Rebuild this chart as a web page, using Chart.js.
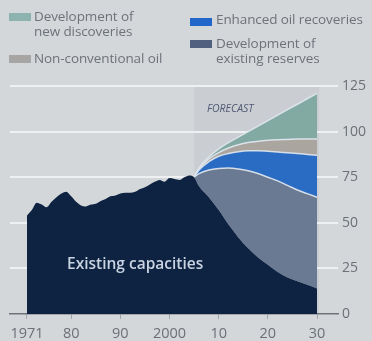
<!DOCTYPE html>
<html>
<head>
<meta charset="utf-8">
<script src="https://cdn.jsdelivr.net/npm/chart.js@4.4.1/dist/chart.umd.min.js"></script>
<style>
    html, body { margin: 0; padding: 0; background: #d4d7da; }
    #wrap { position: relative; width: 372px; height: 341px; overflow: hidden; font-family: "Open Sans", sans-serif; }
    #myChart { position: absolute; left: 0; top: 0; }
    .key { position: absolute; font-size: 13.5px; line-height: 15px; color: #6e7279; white-space: nowrap; letter-spacing: -0.1px; }
    .sw { position: absolute; width: 22px; height: 8px; }
</style>
</head>
<body>
<div id="wrap">
    <canvas id="myChart" width="372" height="341"></canvas>
    <div class="sw" style="left:9px;top:13px;background:#8db3b1"></div>
    <div class="key" style="left:34px;top:9px">Development of<br>new discoveries</div>
    <div class="sw" style="left:9px;top:55px;background:#a6a5a3"></div>
    <div class="key" style="left:34px;top:51px">Non-conventional oil</div>
    <div class="sw" style="left:190px;top:18px;background:#2166c8"></div>
    <div class="key" style="left:216px;top:12px">Enhanced oil recoveries</div>
    <div class="sw" style="left:190px;top:40px;background:#50607e"></div>
    <div class="key" style="left:216px;top:36px">Development of<br>existing reserves</div>
</div>
<script>
// oil output, million barrels a day
const histYears = [1971, 1972, 1973, 1974, 1975, 1976, 1977, 1978, 1979, 1980, 1981, 1982, 1983, 1984, 1985, 1986, 1987,
    1988, 1989, 1990, 1991, 1992, 1993, 1994, 1995, 1996, 1997, 1998, 1999, 2000, 2001, 2002, 2003, 2004]
const histOutput = [54, 57, 61, 60, 58.5, 61.5, 64, 66, 67, 64.5, 61.5, 59.5, 59, 60, 60.5, 62, 63,
    64.5, 65, 66, 66.5, 66.5, 67, 68.5, 69.5, 71, 72.5, 73.5, 72.5, 74.5, 74, 73.5, 75, 76]

const forecastYears = [2005, 2006, 2008, 2010, 2012, 2014, 2016, 2018, 2020, 2022, 2024, 2026, 2028, 2030]
const existingCapacities = [75, 70, 64, 57, 49, 42, 36, 31, 27, 23, 20, 18, 16, 14]
const existingReserves = [0, 7, 15, 22.8, 31, 37.5, 42.5, 46, 48, 50, 50.5, 50, 50, 50]
const enhancedRecovery = [0, 2, 4.5, 6.7, 8, 9.5, 11, 12.5, 14.2, 15.8, 17.9, 20, 21.5, 23]
const nonConventional = [0, 0.5, 1.5, 2, 3, 3.8, 4.5, 5.2, 6, 6.7, 7.3, 7.9, 8.5, 9]
const newDiscoveries = [0, 0.5, 1, 2, 3, 4.2, 6, 8.3, 10.8, 13.5, 16.3, 19.1, 22, 25]

const xTicks = [1971, 1980, 1990, 2000, 2010, 2020, 2030]
const xTickLabels = ['1971', '80', '90', '2000', '10', '20', '30']
const yTicks = [0, 25, 50, 75, 100, 125]
const forecastStart = 2005

const edge = 'rgba(225, 232, 240, 0.9)'
const pts = (xs, ys) => xs.map((x, i) => ({ x: x, y: ys[i] }))

const ctx = document.getElementById('myChart')

const backdrop = {
    id: 'backdrop',
    beforeDraw(chart) {
        const c = chart.ctx
        const x = chart.scales.x
        const y = chart.scales.y
        c.save()
        c.fillStyle = '#d4d7da'
        c.fillRect(0, 0, chart.width, chart.height)
        // forecast shading
        const x0 = x.getPixelForValue(forecastStart)
        const x1 = x.getPixelForValue(2030) + 2
        c.fillStyle = '#cacdd2'
        c.fillRect(x0, y.getPixelForValue(125), x1 - x0, y.getPixelForValue(0) - y.getPixelForValue(125))
        c.restore()
    },
    afterDatasetsDraw(chart) {
        const c = chart.ctx
        c.save()
        c.textBaseline = 'middle'
        c.fillStyle = '#4f5b74'
        c.font = 'italic 10.5px "Open Sans", sans-serif'
        c.fillText('FORECAST', 207, 109)
        c.fillStyle = '#c9d3e2'
        c.font = '600 15.5px "Open Sans", sans-serif'
        c.fillText('Existing capacities', 67, 265)
        c.restore()
    }
}

new Chart(ctx, {
    type: 'line',
    data: {
        datasets: [{
            label: 'Existing capacities',
            data: pts(histYears, histOutput).concat(pts(forecastYears, existingCapacities)),
            backgroundColor: '#0e2341',
            borderWidth: 0,
            fill: 'origin'
        }, {
            label: 'Development of existing reserves',
            data: pts(forecastYears, existingReserves),
            backgroundColor: '#6b7a93',
            borderColor: edge,
            borderWidth: 1.5,
            fill: '-1'
        }, {
            label: 'Enhanced oil recoveries',
            data: pts(forecastYears, enhancedRecovery),
            backgroundColor: '#2a6cc3',
            borderColor: edge,
            borderWidth: 1.5,
            fill: '-1'
        }, {
            label: 'Non-conventional oil',
            data: pts(forecastYears, nonConventional),
            backgroundColor: '#aaa59f',
            borderColor: edge,
            borderWidth: 1.5,
            fill: '-1'
        }, {
            label: 'Development of new discoveries',
            data: pts(forecastYears, newDiscoveries),
            backgroundColor: '#83a9a3',
            borderColor: edge,
            borderWidth: 1.5,
            fill: '-1'
        }, {
            // light edge along the forecast part of existing capacities
            label: 'edge',
            stack: 'edge',
            data: pts(forecastYears, existingCapacities),
            borderColor: edge,
            borderWidth: 1.5,
            fill: false
        }]
    },
    options: {
        responsive: false,
        animation: false,
        layout: { padding: { left: 10, top: 86, right: 0, bottom: 0 } },
        elements: {
            point: { radius: 0 },
            line: { cubicInterpolationMode: 'monotone' }
        },
        plugins: {
            legend: { display: false },
            tooltip: { enabled: false }
        },
        scales: {
            x: {
                type: 'linear',
                min: 1967.55,
                max: 2034.27,
                afterBuildTicks: (s) => { s.ticks = xTicks.map(v => ({ value: v })) },
                afterFit: (s) => { s.height = 27 },
                ticks: {
                    callback: (v) => xTickLabels[xTicks.indexOf(v)],
                    color: '#6c7077',
                    font: { family: '"Open Sans", sans-serif', size: 14.5 },
                    padding: 6,
                    maxRotation: 0
                },
                grid: { drawOnChartArea: false, drawTicks: true, tickLength: 5, color: '#a2a7ad' },
                border: { display: true, color: '#6e7378', width: 1.5 }
            },
            y: {
                position: 'right',
                stacked: true,
                min: 0,
                max: 125,
                afterBuildTicks: (s) => { s.ticks = yTicks.map(v => ({ value: v })) },
                afterFit: (s) => { s.width = 34 },
                ticks: {
                    color: '#6c7077',
                    font: { family: '"Open Sans", sans-serif', size: 14 },
                    padding: 4
                },
                grid: {
                    color: (g) => g.tick && g.tick.value === 0 ? 'rgba(0,0,0,0)' : '#eef0f2',
                    lineWidth: 2,
                    drawTicks: false
                },
                border: { display: false }
            }
        }
    },
    plugins: [backdrop]
});
</script>
</body>
</html>
